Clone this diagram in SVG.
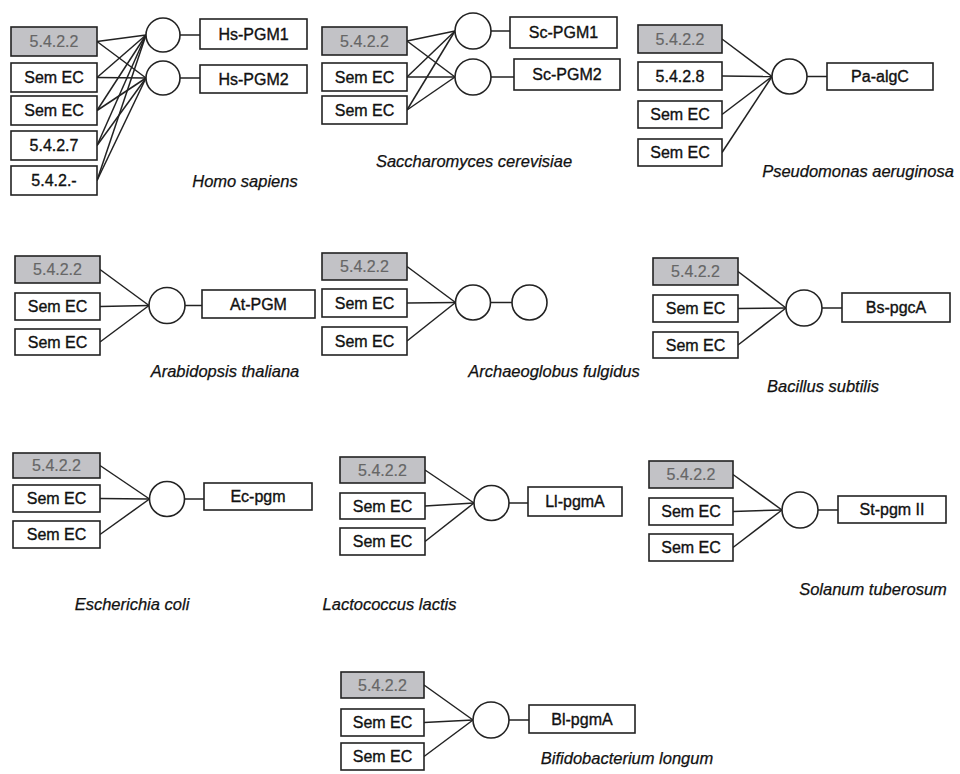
<svg xmlns="http://www.w3.org/2000/svg" width="960" height="774" viewBox="0 0 960 774">
<style>
.b{fill:#fff;stroke:#222;stroke-width:1.6}
.g{fill:#c2c2c6;stroke:#222;stroke-width:1.6}
.c{fill:#fff;stroke:#222;stroke-width:1.6}
.t{font-family:"Liberation Sans",Arial,sans-serif;font-size:16px;fill:#111;stroke:#111;stroke-width:0.35;text-anchor:middle}
.tg{font-family:"Liberation Sans",Arial,sans-serif;font-size:16px;fill:#666;stroke:#666;stroke-width:0.2;text-anchor:middle}
.sp{font-family:"Liberation Sans",Arial,sans-serif;font-size:16.5px;font-style:italic;fill:#111;stroke:#111;stroke-width:0.25;text-anchor:middle}
#connectors line{stroke:#222;stroke-width:1.5}
</style>
<rect width="960" height="774" fill="#fff"/>
<g id="connectors">
<!-- Homo sapiens -->
<line x1="97" y1="41.5" x2="146" y2="35"/><line x1="97" y1="41.5" x2="146" y2="78"/>
<line x1="97" y1="77.5" x2="146" y2="35"/><line x1="97" y1="77.5" x2="146" y2="78"/>
<line x1="97" y1="110.5" x2="146" y2="35"/><line x1="97" y1="110.5" x2="146" y2="78"/>
<line x1="97" y1="145.5" x2="146" y2="35"/><line x1="97" y1="145.5" x2="146" y2="78"/>
<line x1="97" y1="180.5" x2="146" y2="35"/><line x1="97" y1="180.5" x2="146" y2="78"/>
<line x1="180" y1="35" x2="200" y2="35"/><line x1="180" y1="78" x2="200" y2="78"/>
<!-- Saccharomyces -->
<line x1="407" y1="41" x2="455" y2="31"/><line x1="407" y1="41" x2="455" y2="77"/>
<line x1="407" y1="77" x2="455" y2="31"/><line x1="407" y1="77" x2="455" y2="77"/>
<line x1="407" y1="110" x2="455" y2="31"/><line x1="407" y1="110" x2="455" y2="77"/>
<line x1="491" y1="31" x2="510" y2="31"/><line x1="491" y1="77" x2="514" y2="77"/>
<!-- Pseudomonas -->
<line x1="722" y1="39" x2="772" y2="76.5"/><line x1="722" y1="76" x2="772" y2="76.5"/>
<line x1="722" y1="114.5" x2="772" y2="76.5"/><line x1="722" y1="152.5" x2="772" y2="76.5"/>
<line x1="807" y1="76.5" x2="827" y2="76.5"/>
<!-- Arabidopsis -->
<line x1="100" y1="269.5" x2="149" y2="305.5"/><line x1="100" y1="306.5" x2="149" y2="305.5"/>
<line x1="100" y1="342" x2="149" y2="305.5"/><line x1="185" y1="305.5" x2="202" y2="305.5"/>
<!-- Archaeoglobus -->
<line x1="407" y1="266.5" x2="455.5" y2="302.5"/><line x1="407" y1="303" x2="455.5" y2="302.5"/>
<line x1="407" y1="341" x2="455.5" y2="302.5"/><line x1="490.5" y1="302.5" x2="512" y2="302.5"/>
<!-- Bacillus -->
<line x1="738" y1="271.5" x2="786" y2="308"/><line x1="738" y1="308.5" x2="786" y2="308"/>
<line x1="738" y1="345" x2="786" y2="308"/><line x1="822" y1="308" x2="842" y2="308"/>
<!-- Escherichia -->
<line x1="100" y1="465.5" x2="149.5" y2="499"/><line x1="100" y1="498.5" x2="149.5" y2="499"/>
<line x1="100" y1="534.5" x2="149.5" y2="499"/><line x1="184.5" y1="499" x2="204" y2="499"/>
<!-- Lactococcus -->
<line x1="425" y1="470" x2="474" y2="503"/><line x1="425" y1="506" x2="474" y2="503"/>
<line x1="425" y1="541.5" x2="474" y2="503"/><line x1="509" y1="503" x2="528" y2="503"/>
<!-- Solanum -->
<line x1="733" y1="474.5" x2="782" y2="510"/><line x1="733" y1="511.5" x2="782" y2="510"/>
<line x1="733" y1="547.5" x2="782" y2="510"/><line x1="818" y1="510" x2="838" y2="510"/>
<!-- Bifidobacterium -->
<line x1="424" y1="685" x2="473" y2="720"/><line x1="424" y1="722.5" x2="473" y2="720"/>
<line x1="424" y1="756.5" x2="473" y2="720"/><line x1="509" y1="720" x2="529" y2="720"/>
</g>

<!-- Homo sapiens -->
<g id="hs">
<g id="hs-a"><rect class="g" x="11" y="27" width="86" height="29"/><text class="tg" x="54" y="47">5.4.2.2</text></g>
<g id="hs-b"><rect class="b" x="11" y="63" width="86" height="29"/><text class="t" x="54" y="83">Sem EC</text></g>
<g id="hs-c"><rect class="b" x="11" y="96" width="86" height="29"/><text class="t" x="54" y="116">Sem EC</text></g>
<g id="hs-d"><rect class="b" x="11" y="131" width="86" height="29"/><text class="t" x="54" y="151">5.4.2.7</text></g>
<g id="hs-e"><rect class="b" x="11" y="166" width="86" height="29"/><text class="t" x="54" y="186">5.4.2.-</text></g>
<g id="hs-c1"><circle class="c" cx="163" cy="35" r="17"/></g>
<g id="hs-c2"><circle class="c" cx="163" cy="78" r="17"/></g>
<g id="hs-p1"><rect class="b" x="200" y="19" width="107" height="30"/><text class="t" x="253.5" y="40">Hs-PGM1</text></g>
<g id="hs-p2"><rect class="b" x="200" y="65" width="107" height="28"/><text class="t" x="253.5" y="85">Hs-PGM2</text></g>
<text class="sp" x="245" y="187">Homo sapiens</text>
</g>

<!-- Saccharomyces -->
<g id="sc">
<g id="sc-a"><rect class="g" x="322" y="27" width="85" height="28"/><text class="tg" x="364.5" y="47">5.4.2.2</text></g>
<g id="sc-b"><rect class="b" x="322" y="63" width="85" height="28"/><text class="t" x="364.5" y="83">Sem EC</text></g>
<g id="sc-c"><rect class="b" x="322" y="96" width="85" height="28"/><text class="t" x="364.5" y="116">Sem EC</text></g>
<g id="sc-c1"><circle class="c" cx="473" cy="31" r="18"/></g>
<g id="sc-c2"><circle class="c" cx="473" cy="77" r="18"/></g>
<g id="sc-p1"><rect class="b" x="510" y="17" width="107" height="31"/><text class="t" x="563.5" y="38">Sc-PGM1</text></g>
<g id="sc-p2"><rect class="b" x="514" y="59" width="106" height="31"/><text class="t" x="567" y="80">Sc-PGM2</text></g>
<text class="sp" x="474" y="167">Saccharomyces cerevisiae</text>
</g>

<!-- Pseudomonas -->
<g id="pa">
<g id="pa-a"><rect class="g" x="638" y="25" width="84" height="28"/><text class="tg" x="680" y="45">5.4.2.2</text></g>
<g id="pa-b"><rect class="b" x="638" y="62" width="84" height="28"/><text class="t" x="680" y="82">5.4.2.8</text></g>
<g id="pa-c"><rect class="b" x="638" y="101" width="84" height="27"/><text class="t" x="680" y="120">Sem EC</text></g>
<g id="pa-d"><rect class="b" x="638" y="139" width="84" height="27"/><text class="t" x="680" y="158">Sem EC</text></g>
<g id="pa-c1"><circle class="c" cx="789.5" cy="76.5" r="17.5"/></g>
<g id="pa-p"><rect class="b" x="827" y="63" width="106" height="27"/><text class="t" x="880" y="82">Pa-algC</text></g>
<text class="sp" x="858" y="177">Pseudomonas aeruginosa</text>
</g>

<!-- Arabidopsis -->
<g id="at">
<g id="at-a"><rect class="g" x="15" y="256" width="85" height="27"/><text class="tg" x="57.5" y="275">5.4.2.2</text></g>
<g id="at-b"><rect class="b" x="15" y="293" width="85" height="27"/><text class="t" x="57.5" y="312">Sem EC</text></g>
<g id="at-c"><rect class="b" x="15" y="329" width="85" height="26"/><text class="t" x="57.5" y="348">Sem EC</text></g>
<g id="at-c1"><circle class="c" cx="167" cy="305.5" r="18"/></g>
<g id="at-p"><rect class="b" x="202" y="290" width="113" height="28"/><text class="t" x="258.5" y="310">At-PGM</text></g>
<text class="sp" x="225" y="377">Arabidopsis thaliana</text>
</g>

<!-- Archaeoglobus -->
<g id="af">
<g id="af-a"><rect class="g" x="322" y="253" width="85" height="27"/><text class="tg" x="364.5" y="272">5.4.2.2</text></g>
<g id="af-b"><rect class="b" x="322" y="289" width="85" height="28"/><text class="t" x="364.5" y="309">Sem EC</text></g>
<g id="af-c"><rect class="b" x="322" y="327" width="85" height="28"/><text class="t" x="364.5" y="347">Sem EC</text></g>
<g id="af-c1"><circle class="c" cx="473" cy="302.5" r="17.5"/></g>
<g id="af-c2"><circle class="c" cx="529.5" cy="302.5" r="17.5"/></g>
<text class="sp" x="554" y="377">Archaeoglobus fulgidus</text>
</g>

<!-- Bacillus -->
<g id="bs">
<g id="bs-a"><rect class="g" x="653" y="258" width="85" height="27"/><text class="tg" x="695.5" y="277">5.4.2.2</text></g>
<g id="bs-b"><rect class="b" x="653" y="295" width="85" height="27"/><text class="t" x="695.5" y="314">Sem EC</text></g>
<g id="bs-c"><rect class="b" x="653" y="332" width="85" height="26"/><text class="t" x="695.5" y="351">Sem EC</text></g>
<g id="bs-c1"><circle class="c" cx="804" cy="308" r="18"/></g>
<g id="bs-p"><rect class="b" x="842" y="293" width="108" height="29"/><text class="t" x="896" y="313">Bs-pgcA</text></g>
<text class="sp" x="823" y="392">Bacillus subtilis</text>
</g>

<!-- Escherichia -->
<g id="ec">
<g id="ec-a"><rect class="g" x="13" y="453" width="87" height="25"/><text class="tg" x="56.5" y="471">5.4.2.2</text></g>
<g id="ec-b"><rect class="b" x="13" y="485" width="87" height="27"/><text class="t" x="56.5" y="504">Sem EC</text></g>
<g id="ec-c"><rect class="b" x="13" y="521" width="87" height="27"/><text class="t" x="56.5" y="540">Sem EC</text></g>
<g id="ec-c1"><circle class="c" cx="167" cy="499" r="17.5"/></g>
<g id="ec-p"><rect class="b" x="204" y="483" width="108" height="27"/><text class="t" x="258" y="502">Ec-pgm</text></g>
<text class="sp" x="132" y="610">Escherichia coli</text>
</g>

<!-- Lactococcus -->
<g id="ll">
<g id="ll-a"><rect class="g" x="340" y="457" width="85" height="26"/><text class="tg" x="382.5" y="476">5.4.2.2</text></g>
<g id="ll-b"><rect class="b" x="340" y="493" width="85" height="26"/><text class="t" x="382.5" y="512">Sem EC</text></g>
<g id="ll-c"><rect class="b" x="340" y="528" width="85" height="27"/><text class="t" x="382.5" y="547">Sem EC</text></g>
<g id="ll-c1"><circle class="c" cx="491.5" cy="503" r="17.5"/></g>
<g id="ll-p"><rect class="b" x="528" y="487" width="94" height="29"/><text class="t" x="575" y="507">Ll-pgmA</text></g>
<text class="sp" x="389.5" y="610">Lactococcus lactis</text>
</g>

<!-- Solanum -->
<g id="st">
<g id="st-a"><rect class="g" x="649" y="461" width="84" height="27"/><text class="tg" x="691" y="480">5.4.2.2</text></g>
<g id="st-b"><rect class="b" x="649" y="498" width="84" height="27"/><text class="t" x="691" y="517">Sem EC</text></g>
<g id="st-c"><rect class="b" x="649" y="534" width="84" height="27"/><text class="t" x="691" y="553">Sem EC</text></g>
<g id="st-c1"><circle class="c" cx="800" cy="510" r="18"/></g>
<g id="st-p"><rect class="b" x="838" y="496" width="108" height="27"/><text class="t" x="892" y="515">St-pgm II</text></g>
<text class="sp" x="873" y="595">Solanum tuberosum</text>
</g>

<!-- Bifidobacterium -->
<g id="bl">
<g id="bl-a"><rect class="g" x="341" y="672" width="83" height="26"/><text class="tg" x="382.5" y="691">5.4.2.2</text></g>
<g id="bl-b"><rect class="b" x="341" y="709" width="83" height="27"/><text class="t" x="382.5" y="728">Sem EC</text></g>
<g id="bl-c"><rect class="b" x="341" y="743" width="83" height="27"/><text class="t" x="382.5" y="762">Sem EC</text></g>
<g id="bl-c1"><circle class="c" cx="491" cy="720" r="18"/></g>
<g id="bl-p"><rect class="b" x="529" y="705" width="106" height="28"/><text class="t" x="582" y="725">Bl-pgmA</text></g>
<text class="sp" x="627" y="764">Bifidobacterium longum</text>
</g>
</svg>
